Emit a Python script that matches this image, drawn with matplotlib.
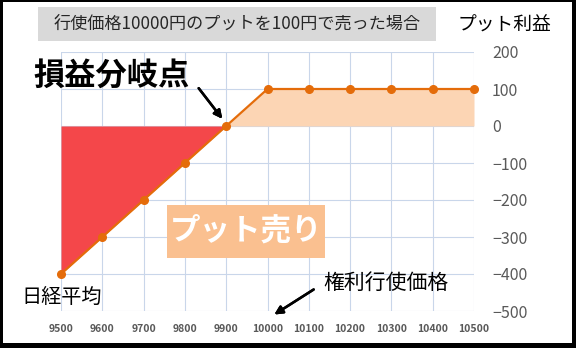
import matplotlib
matplotlib.use("Agg")
import matplotlib.pyplot as plt
from matplotlib.patches import Rectangle

plt.rcParams['font.family'] = ['Noto Sans CJK JP', 'DejaVu Sans']

# Nikkei average at expiry and the short-put profit
prices = [9500, 9600, 9700, 9800, 9900, 10000, 10100, 10200, 10300, 10400, 10500]
profit = [-400, -300, -200, -100, 0, 100, 100, 100, 100, 100, 100]
y_ticks = [-500, -400, -300, -200, -100, 0, 100, 200]

breakeven = 9900

W, H = 576, 348
fig = plt.figure(figsize=(W / 100, H / 100), dpi=100)
fig.patch.set_facecolor('black')
# white card inside the black frame
fig.patches.append(Rectangle((3 / W, 5 / H), 569 / W, 341 / H,
                             transform=fig.transFigure, facecolor='white',
                             edgecolor='none', zorder=-5))

ax = fig.add_axes([61 / W, 1 - 311 / H, (474 - 61) / W, (311 - 52) / H])
ax.set_zorder(1)
ax.set_facecolor('white')

loss_x = [p for p in prices if p <= breakeven]
loss_y = profit[:len(loss_x)]
gain_x = [p for p in prices if p >= breakeven]
gain_y = profit[len(loss_x) - 1:]

ax.fill_between(loss_x, loss_y, 0, color='#F4474A', linewidth=0, zorder=2)
ax.fill_between(gain_x, gain_y, 0, color='#FCD5B4', linewidth=0, zorder=2)
ax.plot(prices, profit, color='#E46C0A', linewidth=1.6, marker='o',
        markersize=5.5, zorder=4, clip_on=False)

ax.set_xlim(prices[0], prices[-1])
ax.set_ylim(y_ticks[0], y_ticks[-1])
ax.set_xticks(prices)
ax.set_yticks(y_ticks)
ax.yaxis.tick_right()
ax.tick_params(axis='y', length=0, pad=13, labelsize=11.5, labelcolor='#595959')
ax.tick_params(axis='x', length=0, pad=9, labelsize=7.5, labelcolor='#595959')
for lab in ax.get_xticklabels():
    lab.set_fontweight('bold')
ax.grid(True, color='#C9D6EA', linewidth=0.8, zorder=1)
ax.set_axisbelow(True)
for s in ax.spines.values():
    s.set_visible(False)

def px(x, y):
    return x / W, 1 - y / H

# title banner
fig.patches.append(Rectangle(px(38, 41), (436 - 38) / W, (41 - 7) / H,
                             transform=fig.transFigure, facecolor='#D9D9D9',
                             edgecolor='none', zorder=1))
fig.text(*px(237, 24), '行使価格10000円のプットを100円で売った場合',
         ha='center', va='center', fontsize=12.3, color='#262626', zorder=3)
fig.text(*px(504, 25), 'プット利益', ha='center', va='center',
         fontsize=13.5, color='black', zorder=3)

fig.text(*px(112, 76), '損益分岐点', ha='center', va='center',
         fontsize=22.5, fontweight='bold', color='black', zorder=3)
fig.text(*px(62, 297), '日経平均', ha='center', va='center',
         fontsize=14.5, color='black', zorder=3)
fig.text(*px(386, 283), '権利行使価格', ha='center', va='center',
         fontsize=15, color='black', zorder=3)

# label box inside the chart
fig.patches.append(Rectangle(px(167, 258), (325 - 167) / W, (258 - 205) / H,
                             transform=fig.transFigure, facecolor='#FAC090',
                             edgecolor='none', zorder=5))
fig.text(*px(246, 231), 'プット売り', ha='center', va='center',
         fontsize=22, fontweight='bold', color='white', zorder=6)

arrow = dict(arrowstyle='-|>', color='black', lw=1.8, mutation_scale=12)
for tip, tail in [((224, H - 121), (197, H - 86)),
                  ((272, H - 316), (316, H - 288))]:
    a = plt.annotate('', xy=tip, xytext=tail,
                     xycoords='figure pixels', textcoords='figure pixels',
                     arrowprops=arrow)
    a.set_zorder(7)
    fig.add_artist(a)

fig.savefig('out.png', dpi=100, facecolor=fig.get_facecolor())
